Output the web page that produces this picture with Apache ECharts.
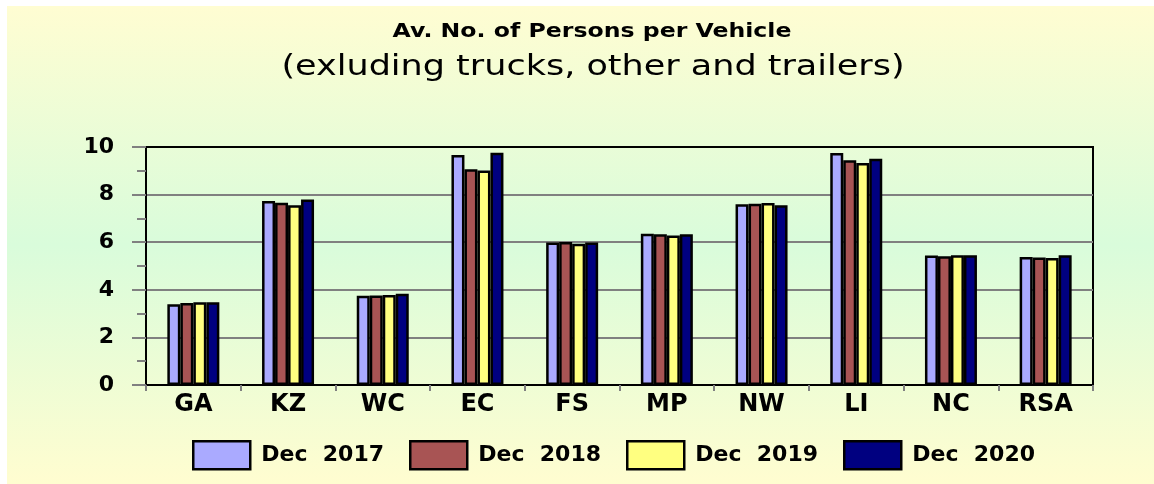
<!DOCTYPE html>
<html>
<head>
<meta charset="utf-8">
<script src="https://cdn.jsdelivr.net/npm/echarts@6/dist/echarts.min.js"></script>
<style>html,body{margin:0;padding:0;background:#fff;}#c{width:1154px;height:484px;}</style>
</head>
<body>
<div id="c"></div>
<script>
const categories = ['GA','KZ','WC','EC','FS','MP','NW','LI','NC','RSA'];
const seriesNames = ['Dec  2017','Dec  2018','Dec  2019','Dec  2020'];
const dec2017 = [3.39, 7.73, 3.75, 9.66, 5.99, 6.36, 7.59, 9.75, 5.44, 5.38];
const dec2018 = [3.45, 7.66, 3.76, 9.06, 6.01, 6.33, 7.62, 9.44, 5.41, 5.36];
const dec2019 = [3.48, 7.55, 3.78, 9.01, 5.94, 6.28, 7.65, 9.33, 5.45, 5.34];
const dec2020 = [3.48, 7.79, 3.83, 9.76, 5.99, 6.33, 7.55, 9.51, 5.45, 5.45];
const yTicks = [0, 2, 4, 6, 8, 10];
const titleText = 'Av. No. of Persons per Vehicle';
const subtitleText = '(exluding trucks, other and trailers)';

const colors = ['#aaaaff', '#a85454', '#ffff80', '#000080'];
const values = [dec2017, dec2018, dec2019, dec2020];
const legendLefts = [192, 409, 626, 843];

const chart = echarts.init(document.getElementById('c'), null, {renderer: 'canvas'});
const boldFont = 'DejaVu Sans';

chart.setOption({
  animation: false,
  graphic: [
    {
      type: 'rect', z: -10, silent: true,
      shape: {x: 7, y: 6, width: 1147, height: 478},
      style: {
        fill: new echarts.graphic.LinearGradient(0, 0, 0, 1, [
          {offset: 0, color: '#fffdd2'},
          {offset: 0.5, color: '#d9fcdb'},
          {offset: 1, color: '#fffdd0'}
        ])
      }
    },
    {
      type: 'text', x: 592, y: 32, scaleX: 1.18, silent: true,
      style: {text: titleText, textAlign: 'center', textVerticalAlign: 'middle',
               font: 'bold 20px "DejaVu Sans"', fill: '#000'}
    },
    {
      type: 'text', x: 593, y: 68, scaleX: 1.25, silent: true,
      style: {text: subtitleText, textAlign: 'center', textVerticalAlign: 'middle',
               font: 'normal 28px "DejaVu Sans"', fill: '#000'}
    }
  ],
  legend: seriesNames.map((n, i) => ({
    data: [n], left: legendLefts[i], top: 440, orient: 'horizontal', padding: 0,
    itemWidth: 57, itemHeight: 28, icon: 'rect',
    itemStyle: {borderColor: '#000', borderWidth: 2.5},
    textStyle: {fontFamily: boldFont, fontWeight: 'bold', fontSize: 22, color: '#000', padding: [0, 0, 0, 6]},
    selectedMode: false
  })),
  grid: {left: 146, top: 147, right: 61, bottom: 99, show: true, borderColor: '#000', borderWidth: 2, backgroundColor: 'transparent'},
  xAxis: {
    type: 'category', data: categories,
    axisLine: {lineStyle: {color: '#000', width: 2}},
    axisTick: {show: true, length: 6, lineStyle: {color: '#808080', width: 2}},
    axisLabel: {fontFamily: boldFont, fontWeight: 'bold', fontSize: 24, color: '#000', margin: 8}
  },
  yAxis: {
    type: 'value', min: yTicks[0], max: yTicks[yTicks.length - 1], interval: 2,
    axisLine: {show: true, lineStyle: {color: '#000', width: 2}},
    axisTick: {show: true, length: 14, lineStyle: {color: '#808080', width: 2}},
    minorTick: {show: true, splitNumber: 2, length: 9, lineStyle: {color: '#808080', width: 2}},
    splitLine: {show: true, lineStyle: {color: ['#808080','#808080','#808080','#808080','#808080','#000'], width: 2}},
    axisLabel: {fontFamily: boldFont, fontWeight: 'bold', fontSize: 22, color: '#000', margin: 32}
  },
  series: seriesNames.map((n, i) => ({
    name: n, type: 'bar', data: values[i],
    barWidth: 13, barGap: '0%',
    itemStyle: {color: colors[i], borderColor: '#000', borderWidth: 2.5}
  }))
});
</script>
</body>
</html>
